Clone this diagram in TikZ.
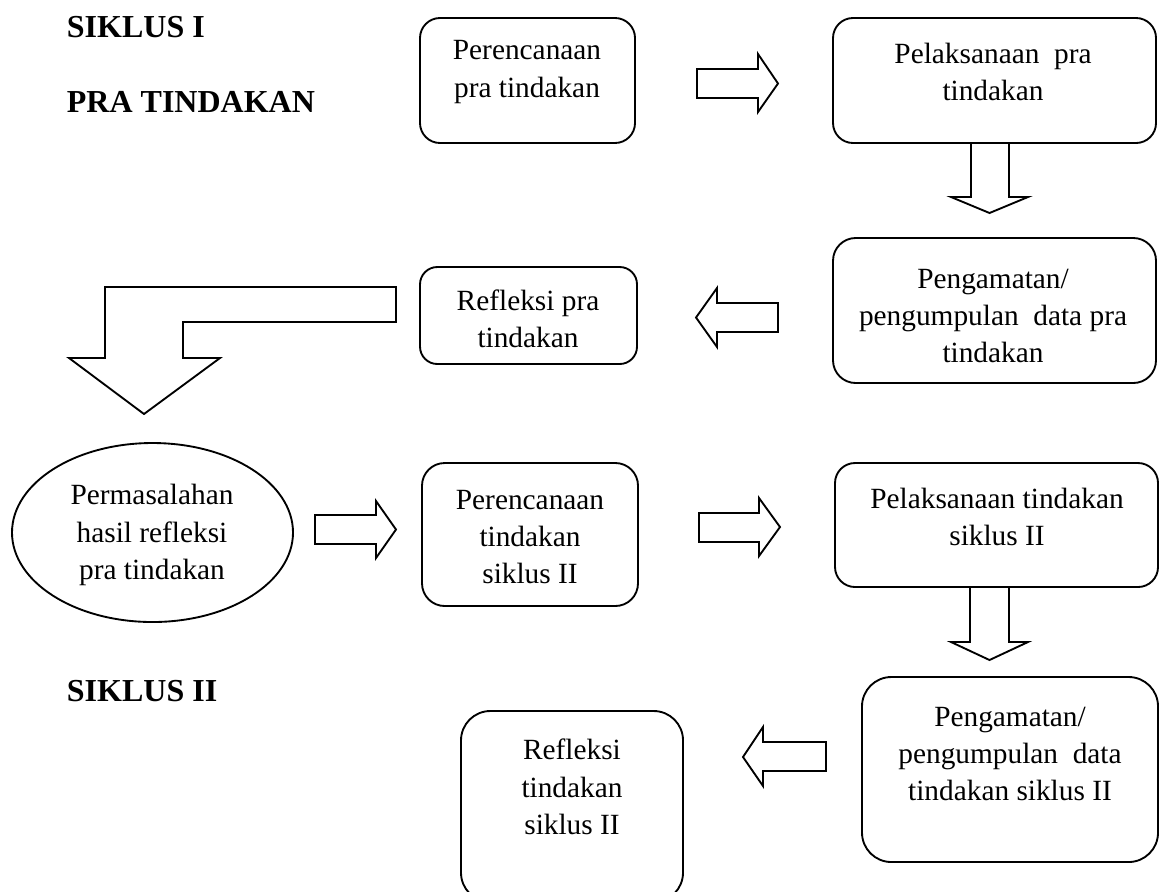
\documentclass[tikz,border=0pt]{standalone}
\usepackage{fontspec}
\setmainfont{Liberation Serif}
\usetikzlibrary{shapes.geometric}
\begin{document}
\begin{tikzpicture}[x=0.375pt, y=-0.375pt, line width=0.7pt,
    box/.style={draw, rounded corners=#1, inner sep=0pt},
    sz/.style 2 args={minimum width=#1*0.375pt, minimum height=#2*0.375pt},
    txt/.style={align=center, inner sep=0pt, font=\fontsize{11}{14}\selectfont},
    title/.style={anchor=west, inner sep=0pt, font=\fontsize{12}{14}\selectfont\bfseries},
    blk/.style={draw, line join=miter}]
  \useasboundingbox (0,0) rectangle (1160,891);

  % judul
  \node[title] (sik1) at (66,27) {SIKLUS I};
  \node[title] (pra) at (66,102) {PRA TINDAKAN};
  \node[title] (sik2) at (66,691) {SIKLUS II};

  % pra tindakan
  \node[box=7.5pt, sz={215}{125}] (ren0) at (527.5,80.5) {};
  \node[txt] (tren0) at (527,72) {Perencanaan\\pra tindakan};
  \node[box=7.5pt, sz={323}{125}] (pel0) at (994.5,80.5) {};
  \node[txt] (tpel0) at (993,72) {Pelaksanaan\ \ pra\\tindakan};
  \node[box=8.5pt, sz={323}{145}] (ama0) at (994.5,310.5) {};
  \node[txt] (tama0) at (993,316) {Pengamatan/\\pengumpulan\ \ data pra\\tindakan};
  \node[box=6.5pt, sz={217}{97}] (ref0) at (528.5,315.5) {};
  \node[txt] (tref0) at (528,319) {Refleksi pra\\tindakan};

  % masalah
  \node[draw, ellipse, inner sep=0pt, sz={281}{179}] (mas) at (152.5,532.5) {};
  \node[txt] (tmas) at (152,535) {Permasalahan\\hasil refleksi\\pra tindakan};

  % siklus II
  \node[box=8.5pt, sz={216}{143}] (ren2) at (530,534.5) {};
  \node[txt] (tren2) at (530,537) {Perencanaan\\tindakan\\siklus II};
  \node[box=7.5pt, sz={323}{124}] (pel2) at (996.5,525) {};
  \node[txt] (tpel2) at (997,517) {Pelaksanaan tindakan\\siklus II};
  \node[box=11pt, sz={296}{185}] (ama2) at (1010,769.5) {};
  \node[txt] (tama2) at (1010,754) {Pengamatan/\\pengumpulan\ \ data\\tindakan siklus II};
  \node[box=11pt, sz={222}{191}] (ref2) at (572,806.5) {};
  \node[txt] (tref2) at (572,787) {Refleksi\\tindakan\\siklus II};

  % panah blok
  \begin{scope}[blk]
    \draw (697,69) -- (758,69) -- (758,54) -- (778,83.5) -- (758,112) -- (758,98) -- (697,98) -- cycle;
    \draw (971,143) -- (971,197) -- (951,197) -- (989.5,213) -- (1028,197) -- (1009,197) -- (1009,143);
    \draw (778,303) -- (717,303) -- (717,288) -- (696,317.5) -- (717,347) -- (717,332) -- (778,332) -- cycle;
    \draw (396,287) -- (105,287) -- (105,358) -- (69,358) -- (144,414) -- (220,358) -- (183,358) -- (183,322) -- (396,322) -- cycle;
    \draw (315,515) -- (376,515) -- (376,501) -- (396,529.5) -- (376,558) -- (376,544) -- (315,544) -- cycle;
    \draw (699,513) -- (759,513) -- (759,498) -- (780,527) -- (759,556) -- (759,542) -- (699,542) -- cycle;
    \draw (970,587) -- (970,642) -- (951,642) -- (989.5,660) -- (1028,642) -- (1009,642) -- (1009,587);
    \draw (826,742) -- (763,742) -- (763,727) -- (743,757) -- (763,786) -- (763,771) -- (826,771) -- cycle;
  \end{scope}
\end{tikzpicture}
\end{document}
